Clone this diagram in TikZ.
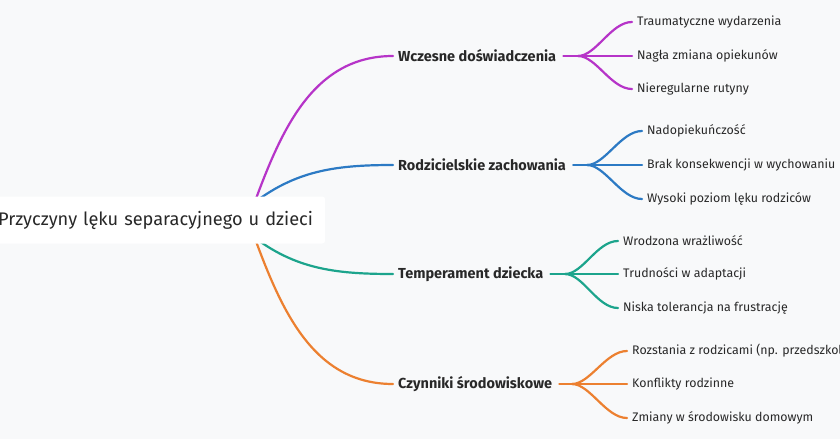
\documentclass[tikz,border=0pt]{standalone}
\usepackage{fontspec}
\setmainfont{Fira Sans}
\usetikzlibrary{positioning}
\definecolor{cpurple}{RGB}{182,52,200}
\definecolor{cblue}{RGB}{44,122,196}
\definecolor{cgreen}{RGB}{28,164,140}
\definecolor{corange}{RGB}{236,128,48}
\definecolor{bgc}{RGB}{248,249,250}
\definecolor{txt}{RGB}{40,40,40}
\tikzset{branch/.style={font=\fontsize{14.5}{16}\selectfont\bfseries, text=txt, anchor=west, inner sep=0pt},
         leaf/.style={font=\fontsize{12.4}{14}\selectfont, text=txt, anchor=west, inner sep=0pt},
         link/.style={line width=2.2pt, line cap=round},
        }

\begin{document}
\begin{tikzpicture}[x=1pt,y=-1pt]
        \fill[bgc](0,0)rectangle(840,439);
        \useasboundingbox(0,0)rectangle(840,439);

        \node[branch](b1)at(398,56){Wczesne doświadczenia};
        \node[branch](b2)at(398,165){Rodzicielskie zachowania};
        \node[branch](b3)at(398,274){Temperament dziecka};
        \node[branch](b4)at(398,384){Czynniki środowiskowe};

        \coordinate(r1)at(250,215);
        \coordinate(r2)at(245,210);
        \coordinate(r3)at(245,230);
        \coordinate(r4)at(250,225);
        \draw[link,cpurple](r1)to[out=70,in=180]([xshift=-5pt]b1.west);
        \draw[link,cblue](r2)to[out=40,in=180]([xshift=-5pt]b2.west);
        \draw[link,cgreen](r3)to[out=-40,in=180]([xshift=-5pt]b3.west);
        \draw[link,corange](r4)to[out=-70,in=180]([xshift=-5pt]b4.west);

        \node[fill=white, rounded corners=3pt, anchor=west, minimum height=47pt, text width=335pt,
              font=\fontsize{18.2}{20}\selectfont, text=txt, inner xsep=0pt](root)at(-10,220)
              {\hspace*{8pt}Przyczyny lęku separacyjnego u dzieci};

        % leaves
        \node[leaf](l11)at(637,22){Traumatyczne wydarzenia};
        \node[leaf](l12)at(637,56){Nagła zmiana opiekunów};
        \node[leaf](l13)at(637,89){Nieregularne rutyny};
        \node[leaf](l21)at(647,131){Nadopiekuńczość};
        \node[leaf](l22)at(647,165){Brak konsekwencji w wychowaniu};
        \node[leaf](l23)at(647,199){Wysoki poziom lęku rodziców};
        \node[leaf](l31)at(623,241){Wrodzona wrażliwość};
        \node[leaf](l32)at(623,274){Trudności w adaptacji};
        \node[leaf](l33)at(623,308){Niska tolerancja na frustrację};
        \node[leaf](l41)at(632,351){Rozstania z rodzicami (np. przedszkole)};
        \node[leaf](l42)at(632,384){Konflikty rodzinne};
        \node[leaf](l43)at(632,418){Zmiany w środowisku domowym};

        \coordinate(f1)at(578,56);
        \coordinate(f2)at(587,165);
        \coordinate(f3)at(565,274);
        \coordinate(f4)at(572,384);

        \draw[link,cpurple]([xshift=7pt]b1.east)--(f1);
        \draw[link,cblue]([xshift=7pt]b2.east)--(f2);
        \draw[link,cgreen]([xshift=7pt]b3.east)--(f3);
        \draw[link,corange]([xshift=7pt]b4.east)--(f4);
        \foreach \b/\c in {1/cpurple,2/cblue,3/cgreen,4/corange}{
          \foreach \l in {1,2,3}{
            \draw[link,\c](f\b)..controls([xshift=18pt]f\b)and([xshift=-26pt]l\b\l.west)..([xshift=-5pt]l\b\l.west);
          }
        }
\end{tikzpicture}
\end{document}
